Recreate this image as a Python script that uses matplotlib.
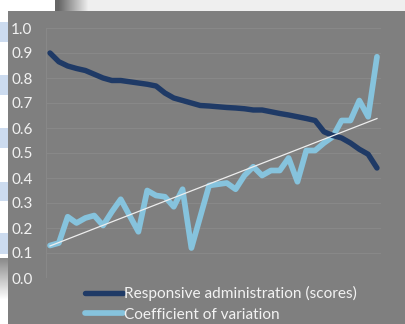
import numpy as np
import matplotlib
matplotlib.use("Agg")
import matplotlib.pyplot as plt

# ---- data ----
responsive_admin = [0.90, 0.865, 0.848, 0.838, 0.830, 0.815, 0.800, 0.790, 0.790, 0.785,
                    0.780, 0.775, 0.768, 0.740, 0.720, 0.710, 0.700, 0.690, 0.688, 0.685,
                    0.682, 0.680, 0.677, 0.672, 0.672, 0.665, 0.658, 0.652, 0.645, 0.638,
                    0.630, 0.585, 0.570, 0.560, 0.540, 0.515, 0.495, 0.440]
coef_variation = [0.13, 0.14, 0.245, 0.22, 0.24, 0.25, 0.21, 0.265, 0.315, 0.25,
                  0.185, 0.35, 0.33, 0.325, 0.285, 0.355, 0.12, 0.245, 0.37, 0.375,
                  0.38, 0.355, 0.41, 0.445, 0.41, 0.43, 0.43, 0.48, 0.385, 0.51,
                  0.51, 0.54, 0.565, 0.63, 0.63, 0.71, 0.645, 0.885]
y_ticks = [0.0, 0.1, 0.2, 0.3, 0.4, 0.5, 0.6, 0.7, 0.8, 0.9, 1.0]
labels = ["Responsive administration (scores)", "Coefficient of variation"]

W, H = 406, 324
fig = plt.figure(figsize=(W / 100, H / 100), dpi=100)

# ---- background (screenshot surroundings) ----
bg = np.ones((H, W, 3))
blue = np.array([0.80, 0.86, 0.94])
for (y0, y1) in [(22, 42), (75, 95), (128, 148), (182, 201), (233, 254)]:
    bg[y0:y1, 0:8] = blue
bg[258, 0:8] = 0.55
for yy in range(259, H):
    t = min(1.0, (yy - 259) / 40.0)
    bg[yy, 0:8] = 0.55 + 0.45 * t
for xx in range(55, W):
    t = min(1.0, max(0.0, (xx - 58) / 30.0))
    bg[0:11, xx] = 0.40 + 0.54 * t
bg[11:, 8:] = 0.50
bax = fig.add_axes([0, 0, 1, 1], zorder=0)
bax.imshow(bg, aspect="auto", interpolation="bilinear", extent=(0, W, H, 0))
bax.set_axis_off()

# ---- chart ----
n = len(coef_variation)
x = np.arange(n)
ax = fig.add_axes([45.6 / W, (H - 278) / H, 335.8 / W, 250 / H], zorder=1)
ax.set_facecolor("none")
ax.set_xlim(-0.5, n - 0.5)
ax.set_ylim(0, 1.0)

for yv in y_ticks:
    ax.axhline(yv, color="#888888", lw=0.8, zorder=0)
ax.axvline(-0.5, color="#888888", lw=0.8, zorder=0)

l1, = ax.plot(x, responsive_admin, color="#1f3a66", lw=3.9,
              solid_capstyle="round", solid_joinstyle="round", clip_on=False, zorder=3)
l2, = ax.plot(x, coef_variation, color="#86c3dd", lw=4.1,
              solid_capstyle="round", solid_joinstyle="round", clip_on=False, zorder=2)
k, b = np.polyfit(x, coef_variation, 1)
ax.plot(x, k * x + b, color="#eeeeee", lw=0.9, zorder=4)

for s in ax.spines.values():
    s.set_visible(False)
ax.set_xticks([])
ax.set_yticks(y_ticks)
ax.set_yticklabels([f"{v:.1f}" for v in y_ticks])
ax.tick_params(axis="y", length=0, pad=9.5, labelcolor="#f2f2f2", labelsize=11)
for t in ax.get_yticklabels():
    t.set_fontfamily("Lato")

leg = fig.legend([l1, l2], labels, loc="center left",
                 bbox_to_anchor=(85 / W, 1 - 304 / H), frameon=False,
                 handlelength=2.45, handletextpad=0.05, labelspacing=0.42,
                 borderpad=0, borderaxespad=0,
                 prop={"family": "Lato", "size": 11.1})
for t in leg.get_texts():
    t.set_color("#f2f2f2")
for h in leg.legend_handles:
    h.set_solid_capstyle("round")

fig.savefig("out.png", dpi=100)
